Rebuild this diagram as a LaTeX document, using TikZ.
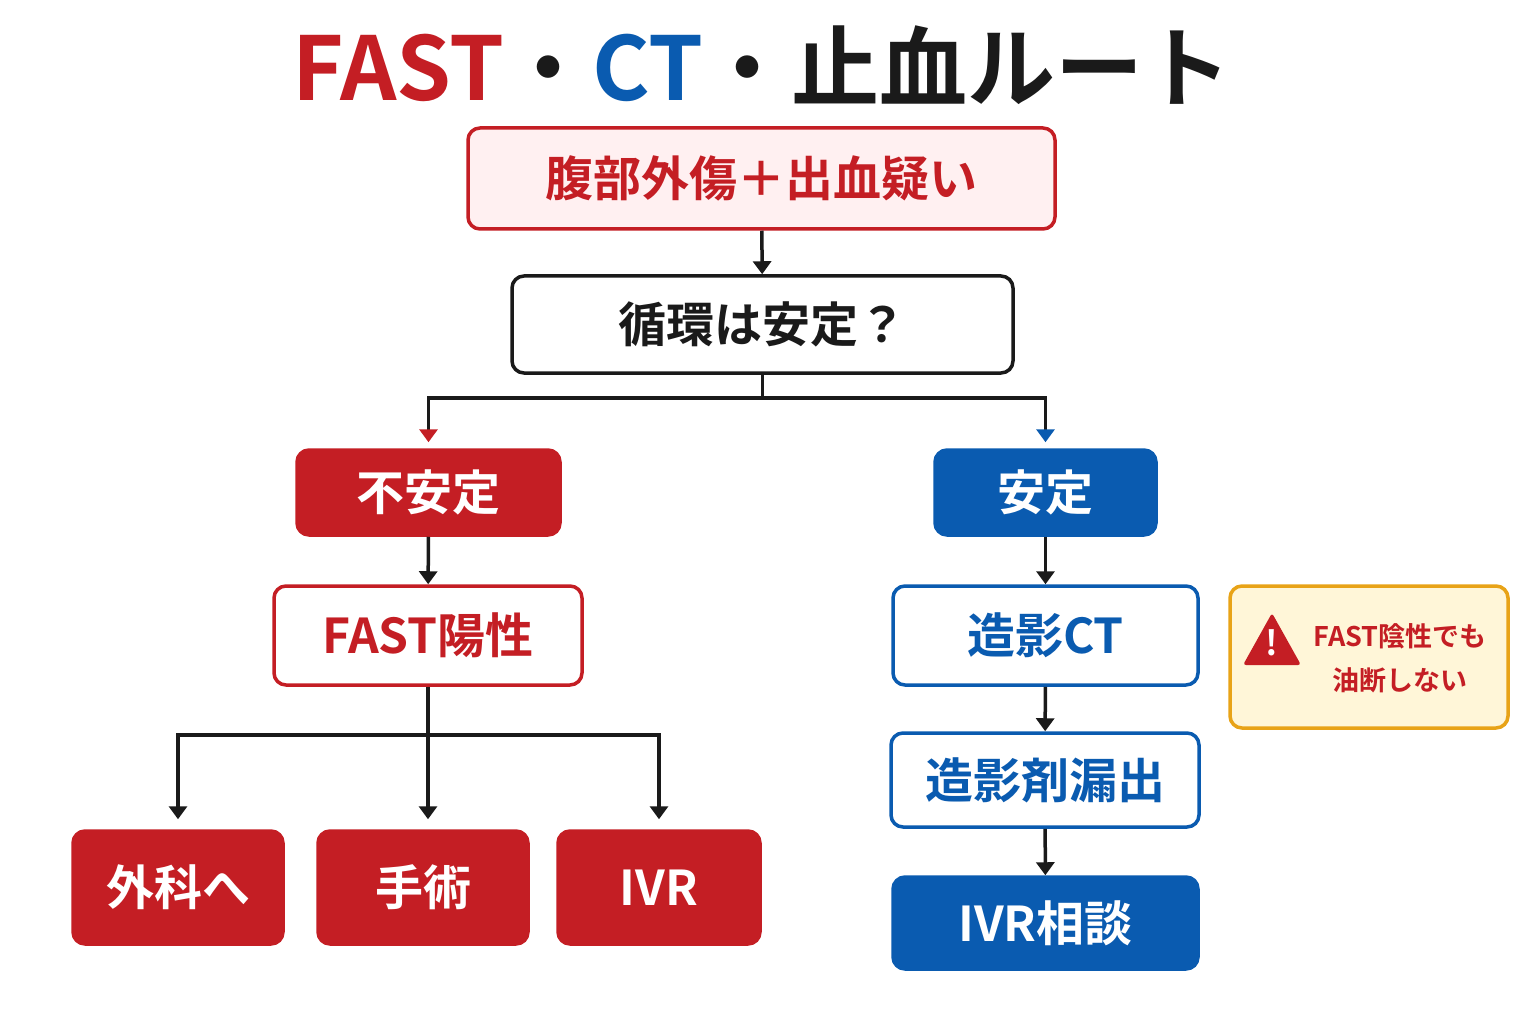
\documentclass[tikz,border=0pt]{standalone}
\usepackage{fontspec}
\setmainfont{Noto Sans CJK JP}[BoldFont={* Bold}]
\usetikzlibrary{arrows.meta}
\definecolor{myred}{HTML}{C41E24}
\definecolor{myblue}{HTML}{0A5BB0}
\definecolor{pinkf}{HTML}{FFF0F1}
\definecolor{yelf}{HTML}{FFF6D8}
\definecolor{orng}{HTML}{E8A317}
\definecolor{ink}{HTML}{1A1A1A}
\begin{document}
\begin{tikzpicture}[x=1pt,y=-1pt,
 box/.style={rounded corners=12pt,line width=3.5pt,inner sep=0pt,font=\bfseries\fontsize{48}{54}\selectfont},
 redfill/.style={box,fill=myred,draw=myred,text=white},
 bluefill/.style={box,fill=myblue,draw=myblue,text=white},
 redline/.style={box,fill=white,draw=myred,text=myred},
 blueline/.style={box,fill=white,draw=myblue,text=myblue},
 conn/.style={line width=3.5pt,draw=ink},
 arr/.style={conn,-{Triangle[length=13pt,width=18pt]}}]
\useasboundingbox (0,0) rectangle (1536,1024);
\fill[white] (0,0) rectangle (1536,1024);
\node[font=\bfseries\fontsize{88}{96}\selectfont,inner sep=0pt] (title) at (762,65)
 {\textcolor{myred}{FAST}\textcolor{ink}{・}\textcolor{myblue}{CT}\textcolor{ink}{・止血ルート}};
\node[box,fill=pinkf,draw=myred,text=myred,minimum width=587pt,minimum height=101pt] (top) at (761.5,178.5) {腹部外傷＋出血疑い};
\node[box,fill=white,draw=ink,text=ink,minimum width=501pt,minimum height=97pt] (q) at (762.5,324.5) {循環は安定？};
\node[redfill,minimum width=263pt,minimum height=85pt] (uns) at (428.5,492.5) {不安定};
\node[bluefill,minimum width=221pt,minimum height=85pt] (st) at (1045.5,492.5) {安定};
\node[redline,minimum width=308pt,minimum height=99pt] (fp) at (428,635.5) {FAST陽性};
\node[blueline,minimum width=305pt,minimum height=99pt] (ct) at (1045.5,635.5) {造影CT};
\node[blueline,minimum width=308pt,minimum height=94pt] (leak) at (1045,780) {造影剤漏出};
\node[bluefill,minimum width=305pt,minimum height=92pt] (ivrc) at (1045.5,923) {IVR相談};
\node[redfill,minimum width=210pt,minimum height=113pt] (surg) at (178,887.5) {外科へ};
\node[redfill,minimum width=210pt,minimum height=113pt] (op) at (423,887.5) {手術};
\node[redfill,minimum width=202pt,minimum height=113pt] (ivr) at (659,887.5) {IVR};
\node[box,fill=yelf,draw=orng,minimum width=278pt,minimum height=142pt] (warn) at (1369,657) {};
\node[text=myred,font=\bfseries\fontsize{27}{44}\selectfont,align=center] (wt) at (1400,658) {FAST陰性でも\\油断しない};
\fill[myred,rounded corners=3pt] (1272,613) -- (1301,665) -- (1243,665) -- cycle;
\node[text=white,font=\bfseries\fontsize{34}{34}\selectfont,inner sep=0pt] (ex) at (1272,643) {!};
\draw[arr] (top) -- (q);
\coordinate (j1) at (762.5,398);
\draw[conn] (q.south) -- (j1);
\draw[conn,-{Triangle[length=13pt,width=18pt,color=myred]}] (j1) -| ([yshift=6pt]uns.north);
\draw[conn,-{Triangle[length=13pt,width=18pt,color=myblue]}] (j1) -| ([yshift=6pt]st.north);
\draw[arr] (uns) -- (fp);
\draw[arr] (st) -- (ct);
\draw[arr] (ct) -- (leak);
\draw[arr] (leak) -- (ivrc);
\coordinate (j2) at (428,735);
\draw[conn] (fp.south) -- (j2);
\draw[arr] (j2) -| ([yshift=10pt]surg.north);
\draw[arr] (j2) -- ([yshift=10pt]op.north -| j2);
\draw[arr] (j2) -| ([yshift=10pt]ivr.north);
\end{tikzpicture}
\end{document}
